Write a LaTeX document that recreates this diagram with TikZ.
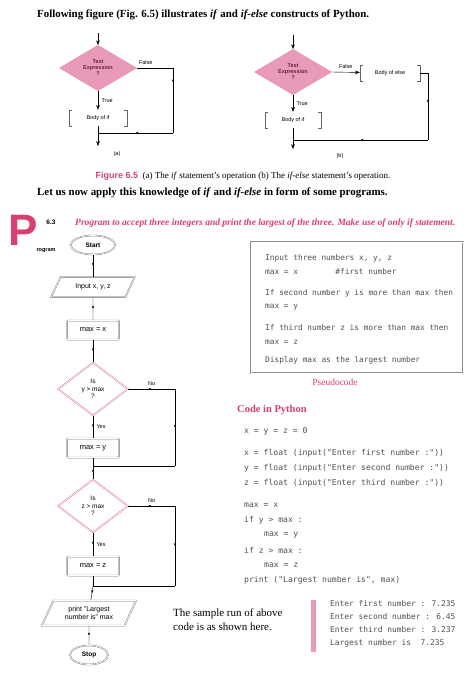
\documentclass[tikz,border=0pt]{standalone}
\usepackage{fontspec}
\setmainfont{Liberation Serif}
\setsansfont{Liberation Sans}
\newfontfamily\codefont{DejaVu Sans Mono}
\usetikzlibrary{arrows.meta, positioning, shapes.geometric, decorations.markings}
\definecolor{bookred}{HTML}{D8406E}
\definecolor{diapink}{HTML}{E99AB8}
\definecolor{codegray}{HTML}{505050}
\newcommand{\bracketbox}[1]{%
  \draw[black!60] ([xshift=3pt]#1.north west) -- (#1.north west) -- (#1.south west) -- ([xshift=3pt]#1.south west);
  \draw[black!60] ([xshift=-3pt]#1.north east) -- (#1.north east) -- (#1.south east) -- ([xshift=-3pt]#1.south east);}
\tikzset{
  midarr/.style={decoration={markings, mark=at position 0.5 with {\arrow{Stealth[length=3pt]}}}, postaction={decorate}},
  flowbox/.style={draw=black!55, double, double distance=0.7pt, rounded corners=1pt,
    minimum width=52pt, minimum height=19pt, font=\sffamily\fontsize{7.5}{8}\selectfont},
  flowterm/.style={ellipse, draw=black!55, double, double distance=0.7pt,
    minimum width=44pt, minimum height=19pt, font=\sffamily\bfseries\fontsize{6.5}{7}\selectfont},
  flowio/.style={trapezium, trapezium left angle=65, trapezium right angle=115, draw=black!55,
    double, double distance=0.7pt, minimum height=20pt, align=center,
    font=\sffamily\fontsize{7}{7.5}\selectfont},
  flowtest/.style={diamond, draw=bookred!80, double, double distance=0.6pt, minimum width=70pt,
    minimum height=53pt, inner sep=0pt, align=center, font=\sffamily\fontsize{6.5}{7.5}\selectfont},
  testpink/.style={diamond, fill=diapink, draw=bookred!60, minimum width=77pt, minimum height=33pt,
    inner sep=0pt, align=center, text=bookred!50!black, font=\sffamily\bfseries\fontsize{5.5}{6}\selectfont},
  bodytext/.style={minimum height=16pt, inner sep=1pt, font=\sffamily\fontsize{5.5}{6}\selectfont},
  tinylabel/.style={font=\sffamily\fontsize{5.5}{6}\selectfont},
  codeline/.style={anchor=west, inner sep=0pt, text=codegray, font=\codefont\fontsize{8.1}{10}\selectfont},
  pseudoline/.style={anchor=west, inner sep=0pt, text=codegray, font=\codefont\fontsize{7.8}{10}\selectfont},
  runline/.style={anchor=west, inner sep=0pt, text=codegray, font=\codefont\fontsize{7.9}{9}\selectfont}
}
\begin{document}
\begin{tikzpicture}[x=1pt, y=-1pt, >=Stealth]
  \useasboundingbox[fill=white] (0,0) rectangle (474,694);
  % Uvodni text
  \node[anchor=west, inner sep=0pt, font=\bfseries\fontsize{10.9}{12}\selectfont] (intro) at (37,15)
    {Following figure (Fig. 6.5) illustrates \textit{if} and \textit{if-else} constructs of Python.};

  % Obrazek (a)
  \coordinate (topa) at (98,33);
  \node[testpink] (da) at (98,68) {Test\\Expression\\?};
  \node[bodytext, minimum width=57pt] (ba) at (98,118) {Body of if};
  \bracketbox{ba}
  \coordinate (ja) at (98,133);
  \coordinate (enda) at (98,146);
  \coordinate (ra) at (173,68);
  \draw[->] (topa) -- (da);
  \draw[->] (da) -- node[right, tinylabel] {True} (ba);
  \draw[->] (ba) -- (enda);
  \draw[midarr] (da.east) -- node[pos=0.25, above, tinylabel] {False} (ra) -- (ra |- ja);
  \draw[midarr] (ra |- ja) -- (ja);
  \node[tinylabel] (capa) at (117,154) {(a)};

  % Obrazek (b)
  \coordinate (topb) at (293,35);
  \node[testpink] (db) at (293,72) {Test\\Expression\\?};
  \node[bodytext, minimum width=55pt] (bb) at (293,120) {Body of if};
  \bracketbox{bb}
  \node[bodytext, minimum width=60pt] (bo) at (390,73) {Body of else};
  \bracketbox{bo}
  \coordinate (jb) at (293,140);
  \coordinate (endb) at (293,149);
  \coordinate (rb) at (428,73);
  \draw[->] (topb) -- (db);
  \draw[->] (db) -- node[right, tinylabel] {True} (bb);
  \draw[->] (bb) -- (endb);
  \draw[->] (db.east) -- node[above, tinylabel] {False} (bo);
  \draw[midarr] (bo.east) -- (rb) -- (rb |- jb);
  \draw[midarr] (rb |- jb) -- (jb);
  \node[tinylabel] (capb) at (340,156) {(b)};

  \node[font=\fontsize{9}{10}\selectfont] (figcap) at (243,176)
    {\textcolor{bookred}{\sffamily\bfseries Figure 6.5} \ (a) The \textit{if} statement's operation (b) The \textit{if-else} statement's operation.};
  \node[anchor=west, inner sep=0pt, font=\bfseries\fontsize{10.9}{12}\selectfont] (apply) at (37,193)
    {Let us now apply this knowledge of \textit{if} and \textit{if-else} in form of some programs.};

  % Program 6.3
  \node[text=bookred, font=\sffamily\bfseries\fontsize{44}{44}\selectfont, inner sep=0pt] (logo) at (23,230) {P};
  \node[font=\sffamily\bfseries\fontsize{6.5}{7}\selectfont] (pnum) at (51,222) {6.3};
  \node[font=\sffamily\bfseries\fontsize{5.5}{6}\selectfont] (pword) at (46,251) {rogram};
  \node[anchor=west, inner sep=0pt, text=bookred, font=\bfseries\itshape\fontsize{9.5}{11}\selectfont] (ptitle) at (75,223)
    {Program to accept three integers and print the largest of the three. Make use of only \textit{if} statement.};

  % Vyvojovy diagram
  \node[flowterm] (start) at (93,245) {Start};
  \node[flowio, minimum width=62pt] (input) at (93,287) {Input x, y, z};
  \node[flowbox] (maxx) at (93,330) {max = x};
  \node[flowtest] (testy) at (93,389) {Is\\y > max\\?};
  \node[flowbox] (maxy) at (93,448) {max = y};
  \node[flowtest] (testz) at (93,506) {Is\\z > max\\?};
  \node[flowbox] (maxz) at (93,566) {max = z};
  \node[flowio, minimum width=82pt, minimum height=25pt] (output) at (89,613) {print "Largest\\number is" max};
  \node[flowterm, minimum width=38pt] (stop) at (89,655) {Stop};
  \coordinate (jy) at (93,466);
  \coordinate (jz) at (93,586);
  \coordinate (ry) at (175,389);
  \coordinate (rz) at (175,506);

  \draw[midarr] (start) -- (input);
  \draw[midarr] (input) -- (maxx);
  \draw[midarr] (maxx) -- (testy);
  \draw[midarr] (testy) -- node[right, tinylabel] {Yes} (maxy);
  \draw (maxy) -- (jy);
  \draw[midarr] (jy) -- (testz);
  \draw[midarr] (testz) -- node[right, tinylabel] {Yes} (maxz);
  \draw (maxz) -- (jz);
  \draw[midarr] (jz) -- (output);
  \draw[midarr] (output) -- (stop);
  \draw[midarr] (testy.east) -- node[above, tinylabel] {No} (ry);
  \draw[midarr] (ry) -- (ry |- jy);
  \draw (ry |- jy) -- (jy);
  \draw[midarr] (testz.east) -- node[above, tinylabel] {No} (rz);
  \draw[midarr] (rz) -- (rz |- jz);
  \draw (rz |- jz) -- (jz);

  % Pseudokod
  \node[draw=black!45, double, double distance=0.6pt, minimum width=212pt, minimum height=131pt] (pseudo) at (357,307.5) {};
  \foreach \xpos/\ypos/\txt in {265/258/{Input three numbers x, y, z},
      265/272/{max = x \hspace{28pt} \#first number},
      265/293/{If second number y is more than max then},
      265/307/{max = y},
      265/328/{If third number z is more than max then},
      265/342/{max = z},
      265/360/{Display max as the largest number}} {
    \node[pseudoline] at (\xpos,\ypos) {\txt};
  }
  \node[text=bookred, font=\fontsize{9.5}{10}\selectfont] (pcap) at (335,382) {Pseudocode};

  % Kod v Pythonu
  \node[anchor=west, inner sep=0pt, text=bookred, font=\bfseries\fontsize{10.5}{12}\selectfont] (codehead) at (237,410) {Code in Python};
  \foreach \xpos/\ypos/\txt in {244/431/{x = y = z = 0},
      244/453/{x = float (input("Enter first number :"))},
      244/468/{y = float (input("Enter second number :"))},
      244/483/{z = float (input("Enter third number :"))},
      244/505/{max = x},
      244/520/{if y > max :},
      264/535/{max = y},
      244/550/{if z > max :},
      264/565/{max = z},
      244/580/{print ("Largest number is", max)}} {
    \node[codeline] at (\xpos,\ypos) {\txt};
  }

  % Ukazka behu
  \node[anchor=west, align=left, inner sep=0pt, font=\fontsize{11}{14}\selectfont] (runtext) at (173,620)
    {The sample run of above\\code is as shown here.};
  \fill[diapink] (311,600) rectangle (316,652);
  \foreach \ypos/\txt in {604/{Enter first number : 7.235},
      617/{Enter second number : 6.45},
      630/{Enter third number : 3.237},
      643/{Largest number is \ 7.235}} {
    \node[runline] at (330,\ypos) {\txt};
  }
\end{tikzpicture}
\end{document}
